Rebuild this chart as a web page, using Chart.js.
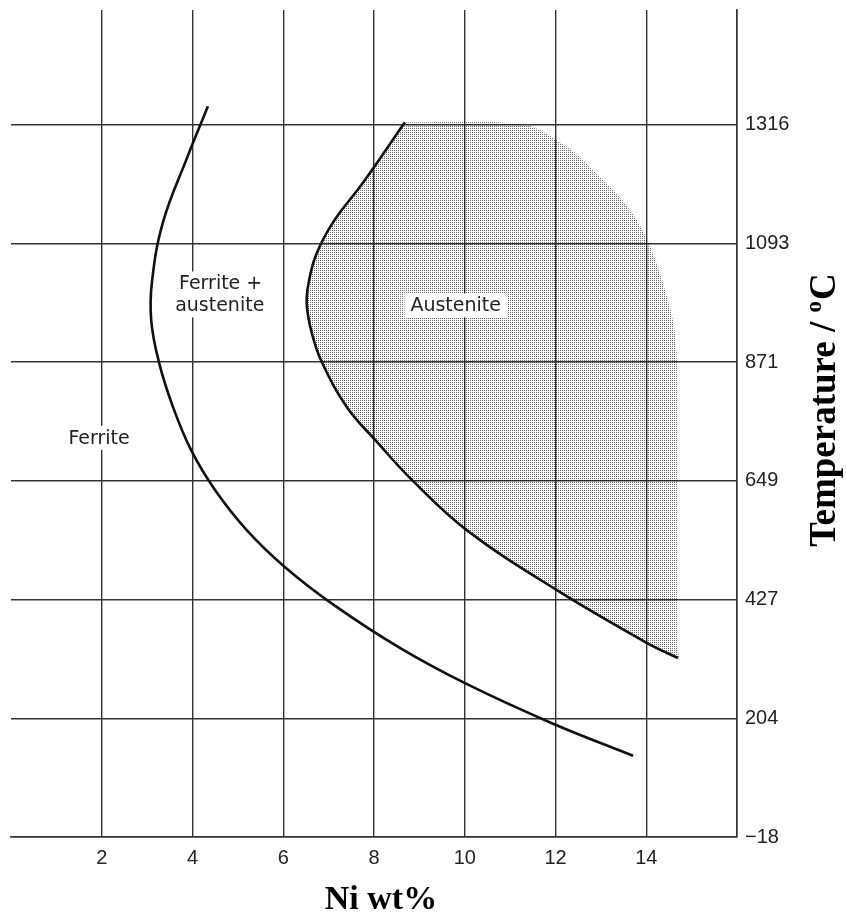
<!DOCTYPE html>
<html>
<head>
<meta charset="utf-8">
<script src="https://cdn.jsdelivr.net/npm/chart.js@4.4.0/dist/chart.umd.min.js"></script>
<style>
  html, body { margin: 0; padding: 0; background: #fff; }
  #wrap { width: 846px; height: 915px; }
</style>
</head>
<body>
<div id="wrap"><canvas id="chart" width="846" height="915"></canvas></div>
<script>
// axis ticks
const niTicks = [0, 2, 4, 6, 8, 10, 12, 14, 16];
const tempTicks = [-18, 204, 427, 649, 871, 1093, 1316];

// ferrite / (ferrite + austenite) boundary
const ferriteNi = [4.34, 3.86, 3.35, 3.11, 3.09, 3.26, 3.57, 3.97, 4.50, 5.20, 6.04, 7.12, 8.57, 10.05, 11.92, 13.71];
const ferriteT = [1350, 1249, 1133, 1024, 949, 871, 787, 706, 631, 556, 487, 416, 336, 268, 195, 134];

// (ferrite + austenite) / austenite boundary
const austNi = [8.68, 7.76, 7.10, 6.72, 6.55, 6.52, 6.63, 6.85, 7.40, 8.07, 8.84, 10.05, 12.03, 14.02, 14.70];
const austT = [1320, 1207, 1133, 1071, 1015, 977, 925, 871, 787, 721, 650, 556, 444, 345, 317];

// outer edge of the shaded austenite field, bottom to top
const edgeNi = [14.70, 14.70, 14.68, 14.63, 14.37, 14.02, 13.64, 12.91, 12.03, 11.22, 8.68];
const edgeT = [330, 612, 800, 925, 1018, 1099, 1155, 1224, 1286, 1316, 1320];

// region labels
const labelText = ['Ferrite', 'Ferrite +', 'austenite', 'Austenite'];
const labelNi = [1.94, 4.62, 4.60, 9.80];
const labelT = [729, 1018, 977, 977];

const toPoints = (xs, ys) => xs.map((v, i) => ({ x: v, y: ys[i] }));

function dotPattern(ctx) {
  const c = document.createElement('canvas');
  c.width = 2; c.height = 2;
  const g = c.getContext('2d');
  g.fillStyle = 'rgba(0,0,0,0.58)';
  g.fillRect(0, 0, 1, 1);
  return ctx.createPattern(c, 'repeat');
}

const overlay = {
  id: 'overlay',
  afterDatasetsDraw(chart) {
    const { ctx, scales: { x, y } } = chart;
    ctx.save();
    ctx.font = '19px "DejaVu Sans"';
    ctx.textAlign = 'center';
    ctx.textBaseline = 'middle';
    ctx.fillStyle = '#fff';
    labelText.forEach((t, i) => {
      const w = ctx.measureText(t).width;
      ctx.fillRect(x.getPixelForValue(labelNi[i]) - w / 2 - 6, y.getPixelForValue(labelT[i]) - 12, w + 12, 24);
    });
    ctx.fillStyle = '#222';
    labelText.forEach((t, i) => {
      ctx.fillText(t, x.getPixelForValue(labelNi[i]), y.getPixelForValue(labelT[i]) + 1);
    });
    ctx.restore();
  },
  afterDraw(chart) {
    const { ctx } = chart;
    ctx.save();
    ctx.fillStyle = '#000';
    ctx.textBaseline = 'alphabetic';
    ctx.textAlign = 'center';
    ctx.font = 'bold 34px "Liberation Serif"';
    ctx.fillText('Ni wt%', 381, 909);

    // vertical title, reads bottom to top
    const big = 'bold 37px "Liberation Serif"', small = 'bold 23px "Liberation Serif"';
    ctx.font = big;
    const w1 = ctx.measureText('Temperature / ').width;
    const w3 = ctx.measureText('C').width;
    ctx.font = small;
    const w2 = ctx.measureText('o').width + 1;
    const total = w1 + w2 + w3;
    ctx.translate(835, 410);
    ctx.rotate(-Math.PI / 2);
    ctx.textAlign = 'left';
    let cx = -total / 2;
    ctx.font = big;
    ctx.fillText('Temperature / ', cx, 0);
    cx += w1;
    ctx.font = small;
    ctx.fillText('o', cx, -14);
    cx += w2;
    ctx.font = big;
    ctx.fillText('C', cx, 0);
    ctx.restore();
  }
};

const canvas = document.getElementById('chart');
const ctx = canvas.getContext('2d');
const gridColor = '#333';

new Chart(ctx, {
  type: 'scatter',
  data: {
    datasets: [
      {
        data: toPoints(austNi.concat(edgeNi), austT.concat(edgeT)),
        showLine: true,
        fill: 'shape',
        backgroundColor: dotPattern(ctx),
        borderWidth: 0,
        pointRadius: 0,
        tension: 0.4
      },
      {
        data: toPoints(austNi, austT),
        showLine: true,
        borderColor: '#111',
        borderWidth: 2.6,
        pointRadius: 0,
        tension: 0.4
      },
      {
        data: toPoints(ferriteNi, ferriteT),
        showLine: true,
        borderColor: '#111',
        borderWidth: 2.6,
        pointRadius: 0,
        tension: 0.4
      }
    ]
  },
  options: {
    responsive: false,
    animation: false,
    events: [],
    layout: { padding: { left: 11, top: 10, right: 0, bottom: 0 } },
    plugins: { legend: { display: false }, tooltip: { enabled: false } },
    scales: {
      x: {
        type: 'linear',
        min: 0,
        max: 16,
        afterBuildTicks: s => { s.ticks = niTicks.map(v => ({ value: v })); },
        afterFit: s => { s.height = 78; s.paddingLeft = 0; s.paddingRight = 0; },
        grid: {
          color: c => (c.tick && c.tick.value === 0) ? 'rgba(0,0,0,0)' : gridColor,
          lineWidth: 1.4,
          drawTicks: false
        },
        border: { display: true, color: gridColor, width: 1.6 },
        ticks: {
          padding: 9,
          color: '#222',
          font: { family: 'Liberation Sans', size: 20 },
          maxRotation: 0,
          autoSkip: false,
          callback: v => (v === 0 || v === 16) ? '' : String(v)
        }
      },
      y: {
        type: 'linear',
        position: 'right',
        min: -18,
        max: 1530,
        afterBuildTicks: s => { s.ticks = tempTicks.map(v => ({ value: v })); },
        afterFit: s => { s.width = 109; s.paddingTop = 0; s.paddingBottom = 0; },
        grid: { color: gridColor, lineWidth: 1.4, drawTicks: false },
        border: { display: true, color: gridColor, width: 1.6 },
        ticks: {
          padding: 8,
          color: '#222',
          font: { family: 'Liberation Sans', size: 20 },
          autoSkip: false,
          callback: v => v < 0 ? '\u2212' + Math.abs(v) : String(v)
        }
      }
    }
  },
  plugins: [overlay]
});
</script>
</body>
</html>
